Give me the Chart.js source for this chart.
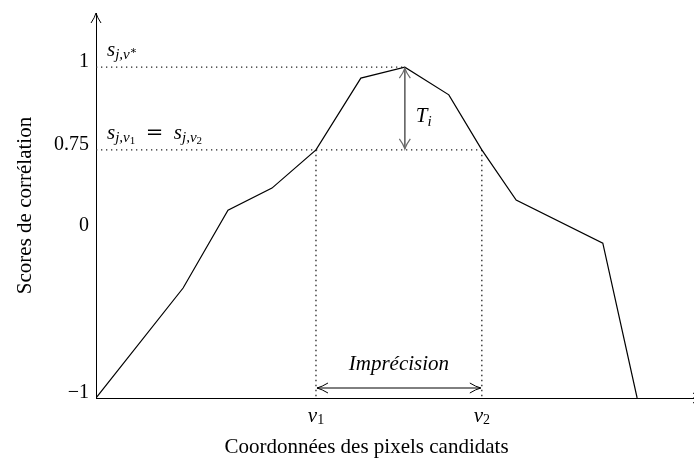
<!DOCTYPE html>
<html lang="fr">
<head>
<meta charset="utf-8">
<title>Scores de corrélation</title>
<script src="https://cdn.jsdelivr.net/npm/chart.js@4.4.1/dist/chart.umd.min.js"></script>
<style>
  html, body { margin: 0; padding: 0; background: #fff; }
  #wrap { width: 694px; height: 459px; }
</style>
</head>
<body>
<div id="wrap"><canvas id="chart" width="694" height="459"></canvas></div>
<script>
'use strict';

// Correlation curve (x: candidate pixel position, y: height on the score axis)
const curveX = [0, 1.98, 3.0, 4.0, 5.0, 6.02, 7.02, 8.02, 8.77, 9.55, 11.52, 12.3];
const curveY = [0, 2.5, 4.27, 4.77, 5.64, 7.27, 7.52, 6.89, 5.64, 4.5, 3.52, 0];

// Score axis: where each tick sits on the axis and what it reads
const yTickPos = [0, 3.8, 5.64, 7.52];
const yTickLabels = ['−1', '0', '0.75', '1'];

// Key points of the figure
const vStar = 7.02;       // position of the best score
const v1 = 5.0;
const v2 = 8.77;
const sMax = 7.52;        // s_j,v*
const sThreshold = 5.64;  // s_j,v1 = s_j,v2

const xTitle = 'Coordonnées des pixels candidats';
const yTitle = 'Scores de corrélation';

const SERIF = '"Liberation Serif", "DejaVu Serif", serif';
const dotted = [1.3, 3.7];

function guide(points) {
    return {
        data: points,
        showLine: true,
        borderColor: '#222',
        borderWidth: 1.3,
        borderDash: dotted,
        pointRadius: 0
    };
}

// open arrow tip, (dx, dy) points toward the tip
function arrowHead(ctx, tx, ty, dx, dy, len, half) {
    const bx = tx - dx * len, by = ty - dy * len;
    const px = -dy * half, py = dx * half;
    const cx = tx - dx * len * 0.45, cy = ty - dy * len * 0.45;
    ctx.beginPath();
    ctx.moveTo(bx + px, by + py);
    ctx.quadraticCurveTo(cx + px * 0.25, cy + py * 0.25, tx, ty);
    ctx.quadraticCurveTo(cx - px * 0.25, cy - py * 0.25, bx - px, by - py);
    ctx.stroke();
}

// text made of pieces (italic letters, subscripts...)
function drawRun(ctx, parts, x, baseline, align) {
    let total = 0;
    for (const p of parts) {
        ctx.font = p.font;
        p.w = ctx.measureText(p.text).width;
        total += p.w;
    }
    let cx = align === 'center' ? x - total / 2 : x;
    ctx.textAlign = 'left';
    ctx.textBaseline = 'alphabetic';
    for (const p of parts) {
        ctx.font = p.font;
        ctx.fillText(p.text, cx, baseline + (p.dy || 0));
        cx += p.w;
    }
}

const it21 = `italic 21px ${SERIF}`;
const it15 = `italic 15px ${SERIF}`;
const up14 = `14px ${SERIF}`;
const up11 = `11px ${SERIF}`;

const annotations = {
    id: 'annotations',
    afterDatasetsDraw(chart) {
        const {ctx, chartArea, scales: {x, y}} = chart;
        const xp = v => x.getPixelForValue(v);
        const yp = v => y.getPixelForValue(v);

        ctx.save();
        ctx.strokeStyle = '#000';
        ctx.fillStyle = '#000';
        ctx.lineWidth = 1;

        // axis tips
        arrowHead(ctx, chartArea.left, chartArea.top, 0, -1, 10, 5);
        ctx.beginPath();
        ctx.moveTo(chartArea.right, chartArea.bottom);
        ctx.lineTo(chartArea.right + 10, chartArea.bottom);
        ctx.stroke();
        arrowHead(ctx, chartArea.right + 10, chartArea.bottom, 1, 0, 10, 5);

        // T_i : gap between best score and threshold
        const tx = xp(vStar);
        ctx.strokeStyle = '#6a6a6a';
        ctx.lineWidth = 1.7;
        ctx.beginPath();
        ctx.moveTo(tx, yp(sMax) + 1);
        ctx.lineTo(tx, yp(sThreshold) - 1);
        ctx.stroke();
        ctx.lineWidth = 1.2;
        arrowHead(ctx, tx, yp(sMax) + 1, 0, -1, 10, 5.5);
        arrowHead(ctx, tx, yp(sThreshold) - 1, 0, 1, 10, 5.5);

        // Imprécision : v1 -> v2
        const ay = chartArea.bottom - 10;
        ctx.strokeStyle = '#000';
        ctx.lineWidth = 1;
        ctx.beginPath();
        ctx.moveTo(xp(v1) + 1, ay);
        ctx.lineTo(xp(v2) - 1, ay);
        ctx.stroke();
        arrowHead(ctx, xp(v1) + 1, ay, -1, 0, 11, 5);
        arrowHead(ctx, xp(v2) - 1, ay, 1, 0, 11, 5);

        drawRun(ctx, [{text: 'Imprécision', font: `italic 21px ${SERIF}`}],
            (xp(v1) + xp(v2)) / 2, ay - 18, 'center');

        // labels on the guides
        const lx = chartArea.left + 11;
        drawRun(ctx, [
            {text: 's', font: it21},
            {text: 'j,v', font: it15, dy: 3},
            {text: '∗', font: up11, dy: -2}
        ], lx, yp(sMax) - 11);

        drawRun(ctx, [
            {text: 's', font: it21},
            {text: 'j,v', font: it15, dy: 3},
            {text: '1', font: up11, dy: 5},
            {text: '  ', font: `21px ${SERIF}`},
            {text: '=', font: `21px "DejaVu Serif", serif`},
            {text: '  ', font: `21px ${SERIF}`},
            {text: 's', font: it21},
            {text: 'j,v', font: it15, dy: 3},
            {text: '2', font: up11, dy: 5}
        ], lx, yp(sThreshold) - 11);

        drawRun(ctx, [
            {text: 'T', font: it21},
            {text: 'i', font: it15, dy: 3.5}
        ], tx + 11, (yp(sMax) + yp(sThreshold)) / 2 + 14);

        // v1, v2 under the axis
        const vb = chartArea.bottom + 23.5;
        drawRun(ctx, [{text: 'v', font: it21}, {text: '1', font: up14, dy: 2.5}], xp(v1), vb, 'center');
        drawRun(ctx, [{text: 'v', font: it21}, {text: '2', font: up14, dy: 2.5}], xp(v2), vb, 'center');

        // x title, centred on the curve's span
        ctx.font = `21px ${SERIF}`;
        ctx.textAlign = 'center';
        ctx.textBaseline = 'alphabetic';
        ctx.fillText(xTitle, xp(curveX[curveX.length - 1] / 2), 453);

        ctx.restore();
    }
};

const curve = curveX.map((v, i) => ({x: v, y: curveY[i]}));

new Chart(document.getElementById('chart'), {
    type: 'scatter',
    data: {
        datasets: [
            {
                data: curve,
                showLine: true,
                borderColor: '#000',
                borderWidth: 1.2,
                pointRadius: 0,
                tension: 0
            },
            guide([{x: 0, y: sMax}, {x: vStar, y: sMax}]),
            guide([{x: 0, y: sThreshold}, {x: v2, y: sThreshold}]),
            guide([{x: v1, y: sThreshold}, {x: v1, y: 0}]),
            guide([{x: v2, y: sThreshold}, {x: v2, y: 0}])
        ]
    },
    options: {
        responsive: false,
        animation: false,
        devicePixelRatio: 1,
        layout: {padding: {top: 13, right: 1, left: 0, bottom: 0}},
        plugins: {legend: {display: false}, tooltip: {enabled: false}},
        scales: {
            x: {
                type: 'linear',
                min: 0,
                max: 13.57,
                grid: {display: false, drawTicks: false},
                border: {display: true, color: '#000', width: 1},
                ticks: {display: false},
                afterFit: scale => {
                    scale.height = 61;
                    scale.paddingLeft = 0;
                    scale.paddingRight = 0;
                }
            },
            y: {
                type: 'linear',
                min: 0,
                max: 8.75,
                grid: {display: false, drawTicks: false},
                border: {display: true, color: '#000', width: 1},
                afterBuildTicks: scale => {
                    scale.ticks = yTickPos.map(v => ({value: v}));
                },
                ticks: {
                    color: '#000',
                    padding: 7,
                    labelOffset: -5,
                    font: {family: SERIF, size: 20},
                    callback: (value, index) => yTickLabels[index]
                },
                title: {
                    display: true,
                    text: yTitle,
                    color: '#000',
                    font: {family: SERIF, size: 21},
                    padding: {top: 13, bottom: 0}
                },
                afterFit: scale => {
                    scale.width = 96;
                    scale.paddingTop = 0;
                    scale.paddingBottom = 0;
                }
            }
        }
    },
    plugins: [annotations]
});
</script>
</body>
</html>
